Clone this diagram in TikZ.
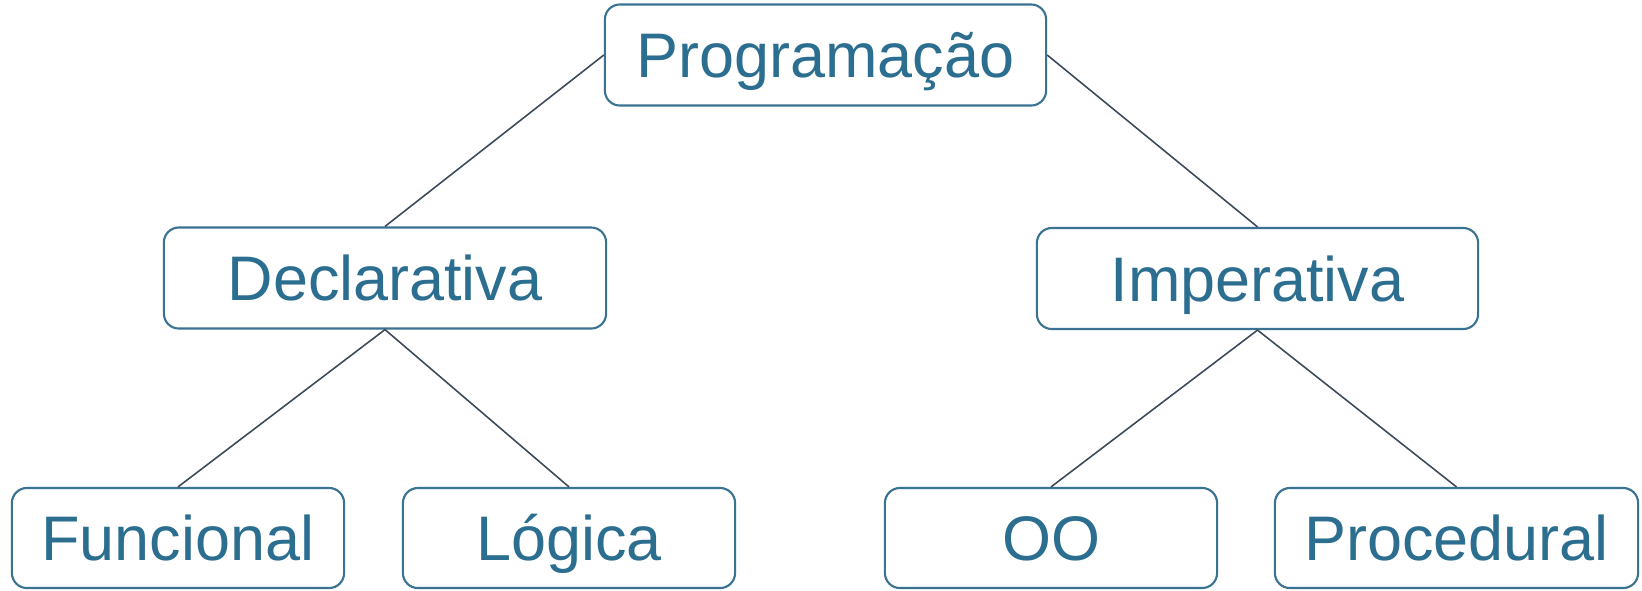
\documentclass[tikz,border=0pt]{standalone}
\usepackage{fontspec}
\setmainfont{Liberation Sans}
\definecolor{boxtext}{HTML}{2C6E8F}
\definecolor{boxline}{HTML}{3A7292}
\definecolor{edgeline}{HTML}{3C4A5C}
\begin{document}
\begin{tikzpicture}[x=0.01cm, y=-0.01cm,
		tipo/.style={draw=boxline, line width=0.6pt, rounded corners=0.15cm, fill=white, text=boxtext, inner sep=0pt, minimum height=1.01cm, text height=0.45cm, text depth=0pt, font=\fontsize{17.9}{20}\selectfont},
		ramo/.style={draw=edgeline, line width=0.45pt}]
		\useasboundingbox (0,0) rectangle (1642,590);

		\node[tipo, minimum width=4.41cm] (prog) at (825.5,55) {Programação};

		\node[tipo, minimum width=4.42cm] (decl) at (385,278) {Declarativa};
		\node[tipo, minimum width=4.41cm] (imp) at (1257.5,278.5) {Imperativa};

		\node[tipo, minimum width=3.32cm, minimum height=1.0cm] (func) at (178,538) {Funcional};
		\node[tipo, minimum width=3.32cm, minimum height=1.0cm] (logi) at (569,538) {Lógica};
		\node[tipo, minimum width=3.32cm, minimum height=1.0cm] (oo) at (1051,538) {OO};
		\node[tipo, minimum width=3.63cm, minimum height=1.0cm] (proc) at (1456.5,538) {Procedural};

		\draw[ramo] (prog.west) -- (decl.north);
		\draw[ramo] (prog.east) -- (imp.north);
		\draw[ramo] (decl.south) -- (func.north);
		\draw[ramo] (decl.south) -- (logi.north);
		\draw[ramo] (imp.south) -- (oo.north);
		\draw[ramo] (imp.south) -- (proc.north);
	\end{tikzpicture}
\end{document}
